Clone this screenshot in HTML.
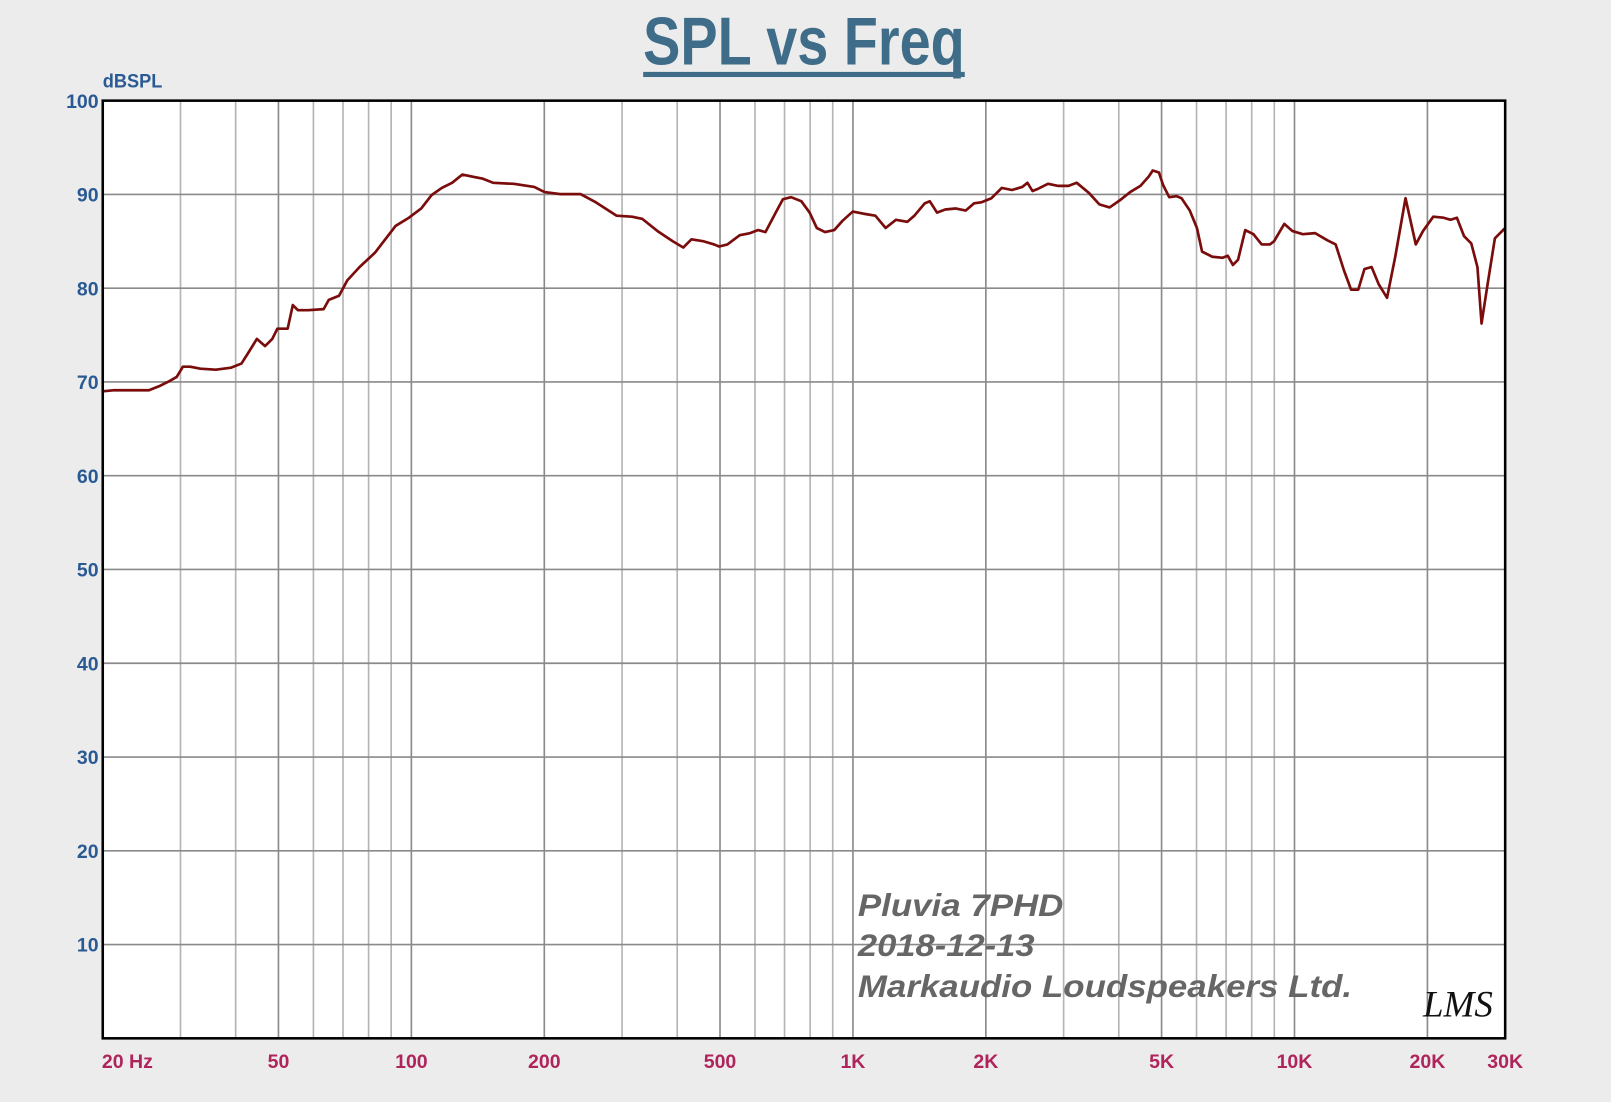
<!DOCTYPE html>
<html><head><meta charset="utf-8"><style>
html,body{margin:0;padding:0;background:#ececec;}
svg{display:block;}
</style></head><body>
<svg id="s" width="1611" height="1102" viewBox="0 0 1568 1073" preserveAspectRatio="none" xmlns="http://www.w3.org/2000/svg">
<rect x="0" y="0" width="1568" height="1073" fill="#ececec"/>
<rect x="100" y="98" width="1365" height="913" fill="#ffffff"/>
<g id="grid"></g>
<text x="626" y="63" font-family="Liberation Sans, sans-serif" font-weight="bold" font-size="66" fill="#3f6d89" textLength="313" lengthAdjust="spacingAndGlyphs">SPL vs Freq</text>
<rect x="626" y="70" width="313" height="5" fill="#3f6d89"/>
<text x="100" y="85" font-family="Liberation Sans, sans-serif" font-weight="bold" font-size="19" fill="#2a5a94" textLength="58" lengthAdjust="spacingAndGlyphs">dBSPL</text>
<g id="ylab" font-family="Liberation Sans, sans-serif" font-weight="bold" font-size="19" fill="#2a5a94" text-anchor="end"></g>
<g id="xlab" font-family="Liberation Sans, sans-serif" font-weight="bold" font-size="19" fill="#b0245c" text-anchor="middle"></g>
<path id="curve" fill="none" stroke="#7a0c0c" stroke-width="2.6" stroke-linejoin="round"/>
<g font-family="Liberation Sans, sans-serif" font-weight="bold" font-style="italic" font-size="31" fill="#666">
<text x="835" y="892" textLength="200" lengthAdjust="spacingAndGlyphs">Pluvia 7PHD</text>
<text x="835" y="931" textLength="172" lengthAdjust="spacingAndGlyphs">2018-12-13</text>
<text x="835" y="971" textLength="481" lengthAdjust="spacingAndGlyphs">Markaudio Loudspeakers Ltd.</text>
</g>
<text x="1385" y="990" font-family="Liberation Serif, serif" font-style="italic" font-size="36" fill="#111">LMS</text>
<rect x="100" y="98" width="1365" height="913" fill="none" stroke="#000" stroke-width="2.5"/>
</svg>
<script>
var ns="http://www.w3.org/2000/svg";
function X(f){return 100+1365*Math.log10(f/20)/Math.log10(1500);}
function Y(d){return 1011-9.13*d;}
var g=document.getElementById('grid');
function line(x1,y1,x2,y2,c,w){var l=document.createElementNS(ns,'line');l.setAttribute('x1',x1);l.setAttribute('y1',y1);l.setAttribute('x2',x2);l.setAttribute('y2',y2);l.setAttribute('stroke',c);l.setAttribute('stroke-width',w);g.appendChild(l);}
var decs=[10,100,1000,10000];
decs.forEach(function(d){for(var m=1;m<10;m++){var f=d*m;if(f<=20||f>=30000)continue;var major=(m==1||m==2||m==5);line(X(f),98,X(f),1011,major?'#8a8a8a':'#b4b4b4',1.6);}});
for(var d=10;d<100;d+=10)line(100,Y(d),1465,Y(d),'#8a8a8a',1.6);
var yl=document.getElementById('ylab');
for(var d=10;d<=100;d+=10){var t=document.createElementNS(ns,'text');t.setAttribute('x',96);t.setAttribute('y',Y(d)+7);t.textContent=d;yl.appendChild(t);}
var xl=document.getElementById('xlab');
[[50,'50'],[100,'100'],[200,'200'],[500,'500'],[1000,'1K'],[2000,'2K'],[5000,'5K'],[10000,'10K'],[20000,'20K'],[30000,'30K']].forEach(function(a){var t=document.createElementNS(ns,'text');t.setAttribute('x',X(a[0]));t.setAttribute('y',1040);t.textContent=a[1];xl.appendChild(t);});
var t=document.createElementNS(ns,'text');t.setAttribute('x',124);t.setAttribute('y',1040);t.textContent='20  Hz';xl.appendChild(t);
var p=[[100,381],[110,380],[145,380],[155,376],[165,371],[172,367],[178,357],[185,357],[195,359],[210,360],[225,358],[235,354],[242,343],[250,330],[258,337],[265,330],[270,320],[280,320],[285,297],[290,302],[300,302],[315,301],[320,292],[330,288],[338,273],[350,260],[365,246],[375,233],[385,220],[398,212],[410,203],[420,190],[430,183],[440,178],[450,170],[460,172],[470,174],[480,178],[500,179],[520,182],[530,187],[545,189],[565,189],[580,197],[600,210],[615,211],[625,213],[640,225],[655,235],[665,241],[673,233],[685,235],[695,238],[700,240],[708,238],[720,229],[730,227],[738,224],[745,226],[755,207],[762,194],[770,192],[780,196],[788,207],[795,222],[803,226],[812,224],[820,215],[830,206],[840,208],[852,210],[862,222],[872,214],[883,216],[890,210],[900,198],[905,196],[912,207],[920,204],[930,203],[940,205],[948,198],[955,197],[965,193],[975,183],[985,185],[995,182],[1000,178],[1005,186],[1010,184],[1020,179],[1030,181],[1040,181],[1048,178],[1060,188],[1070,199],[1080,202],[1090,195],[1100,187],[1110,181],[1118,172],[1122,166],[1128,168],[1132,180],[1138,192],[1145,191],[1150,193],[1158,205],[1165,222],[1170,245],[1180,250],[1190,251],[1195,249],[1200,258],[1205,253],[1212,224],[1220,228],[1228,238],[1236,238],[1240,235],[1250,218],[1258,225],[1268,228],[1280,227],[1292,234],[1300,238],[1308,263],[1315,282],[1322,282],[1328,262],[1335,260],[1342,277],[1350,290],[1358,250],[1368,193],[1378,238],[1385,225],[1395,211],[1405,212],[1412,214],[1418,212],[1425,230],[1432,237],[1438,260],[1442,315],[1448,276],[1455,232],[1465,222]];
document.getElementById('curve').setAttribute('d','M'+p.map(function(a){return a[0]+' '+a[1];}).join(' L'));
</script>
</body></html>
